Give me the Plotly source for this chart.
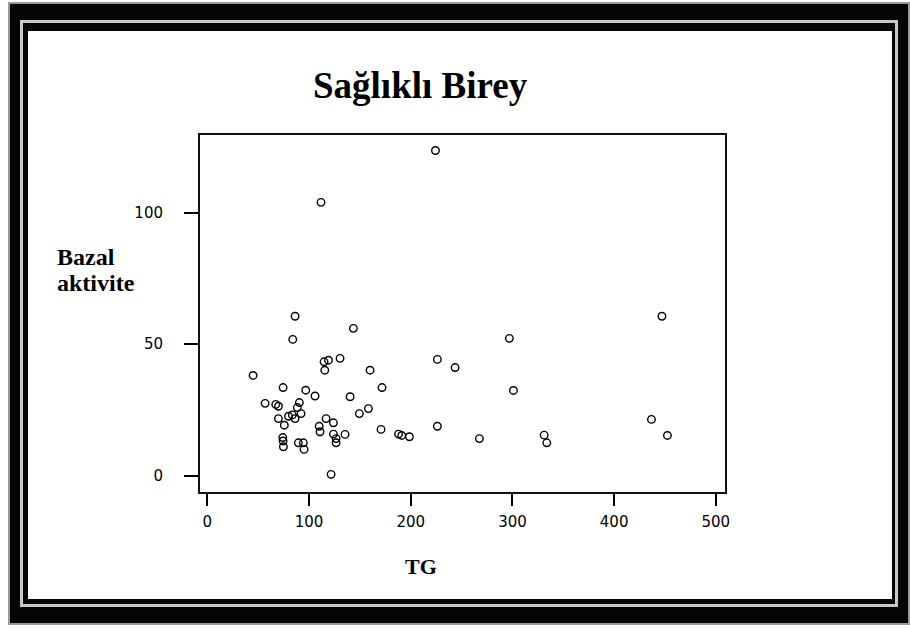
import plotly.graph_objects as go

# Data
tg = [224.3, 111.8, 86.3, 84.0, 143.6, 45.0, 114.8, 119.1, 115.5, 130.5,
      160.0, 171.8, 74.5, 96.8, 105.9, 140.4, 158.4, 149.5, 56.8, 67.3,
      69.9, 90.5, 88.5, 83.6, 92.2, 79.8, 69.9, 75.7, 86.3, 116.8,
      124.0, 110.0, 110.8, 74.2, 74.5, 74.8, 89.5, 94.4, 95.1, 124.0,
      126.6, 126.6, 135.4, 170.8, 188.0, 191.2, 198.7, 121.7, 226.2, 243.6,
      226.2, 297.0, 301.0, 267.5, 447.0, 436.7, 452.4, 331.2, 333.8]
bazal = [123.6, 103.9, 60.6, 51.8, 56.0, 38.1, 43.3, 43.9, 40.1, 44.6,
         40.1, 33.5, 33.5, 32.5, 30.3, 30.0, 25.5, 23.6, 27.5, 27.1,
         26.4, 27.8, 25.9, 23.1, 23.6, 22.6, 21.7, 19.2, 21.7, 21.7,
         20.1, 18.8, 16.7, 14.5, 13.2, 11.0, 12.5, 12.5, 10.0, 15.8,
         14.1, 12.5, 15.7, 17.6, 15.8, 15.3, 14.8, 0.5, 44.2, 41.1,
         18.8, 52.2, 32.4, 14.1, 60.6, 21.4, 15.3, 15.4, 12.5]

x_ticks = [0, 100, 200, 300, 400, 500]
y_ticks = [0, 50, 100]
title_text = "Sağlıklı Birey"
x_title = "TG"
y_title_lines = ["Bazal", "aktivite"]

W, H = 910, 628
L, R, T, B = 200, 185, 135, 136


def px(x):
    return (x - L) / (W - L - R)


def py(y):
    return (H - B - y) / (H - T - B)


fig = go.Figure(go.Scatter(
    x=tg, y=bazal, mode="markers", showlegend=False,
    marker=dict(symbol="circle-open", size=7.5, color="black",
                line=dict(width=1.4, color="black")),
))

# Decorative double frame around the page (pixel rectangles)
frame = [
    ((8, 2, 910, 625), "#9a9a9a"),
    ((10, 4, 908, 623), "#050505"),
    ((20, 20, 898, 607), "#c8c8c8"),
    ((23, 23, 895, 604), "#050505"),
    ((28, 31, 892, 599), "white"),
]
shapes = []
for (x0, y0, x1, y1), c in frame:
    shapes.append(dict(type="rect", xref="paper", yref="paper",
                       x0=px(x0), x1=px(x1), y0=py(y1), y1=py(y0),
                       fillcolor=c, line=dict(width=0), layer="below"))

serif = "Liberation Serif, Times New Roman, serif"
annotations = [
    dict(text="<b>%s</b>" % title_text, x=px(420), y=py(85), xref="paper", yref="paper",
         showarrow=False, xanchor="center", yanchor="middle",
         font=dict(family=serif, size=37, color="black")),
    dict(text="<b>%s</b>" % x_title, x=px(421), y=py(566), xref="paper", yref="paper",
         showarrow=False, xanchor="center", yanchor="middle",
         font=dict(family=serif, size=22, color="black")),
]
for line_text, ycen in zip(y_title_lines, [257, 283]):
    annotations.append(dict(text="<b>%s</b>" % line_text, x=px(55), y=py(ycen),
                            xref="paper", yref="paper", showarrow=False,
                            xanchor="left", yanchor="middle",
                            font=dict(family=serif, size=24, color="black")))

tickfont = dict(family="DejaVu Sans, Arial, sans-serif", size=15, color="black")
fig.update_layout(
    width=W, height=H,
    margin=dict(l=L, r=R, t=T, b=B, pad=0),
    paper_bgcolor="white", plot_bgcolor="white",
    shapes=shapes, annotations=annotations,
    xaxis=dict(range=[-7.2, 509], tickvals=x_ticks, ticks="outside", ticklen=12,
               tickwidth=1.5, tickcolor="black", showline=True, linewidth=2,
               linecolor="#111", mirror=True, showgrid=False, zeroline=False,
               tickfont=tickfont, ticklabelstandoff=3),
    yaxis=dict(range=[-6.2, 129.5], tickvals=y_ticks, ticks="outside", ticklen=14,
               tickwidth=1.5, tickcolor="black", showline=True, linewidth=2,
               linecolor="#111", mirror=True, showgrid=False, zeroline=False,
               tickfont=tickfont, ticklabelstandoff=18),
)

fig.write_html("out.html", config={"displayModeBar": False},
               post_script="document.body.style.margin='0';document.body.style.padding='0';")
